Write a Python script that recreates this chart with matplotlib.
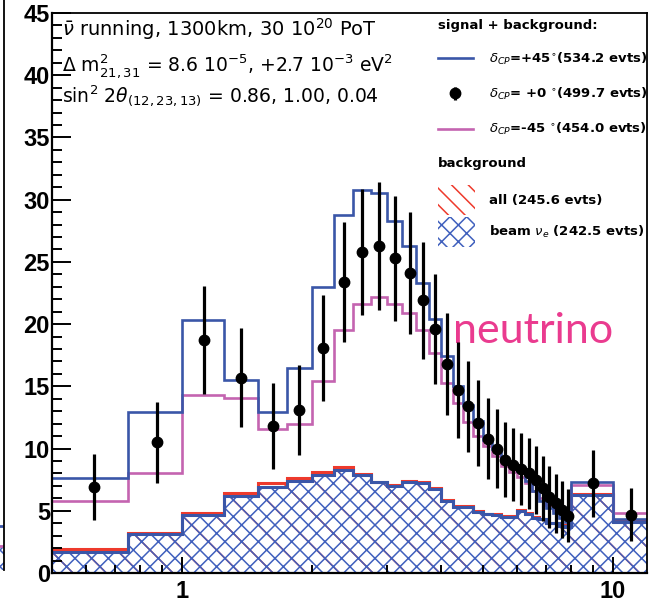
import numpy as np
import matplotlib.pyplot as plt
from matplotlib.lines import Line2D
from matplotlib.patches import Patch
from matplotlib.ticker import FixedLocator, MultipleLocator, LogLocator, NullFormatter

plt.rcParams['font.family'] = ['DejaVu Sans']
plt.rcParams['mathtext.fontset'] = 'dejavusans'
plt.rcParams['hatch.linewidth'] = 1.1

# energy bins (GeV)
edges = [0.5, 0.75, 1.0, 1.25, 1.5, 1.75, 2.0, 2.25, 2.5, 2.75, 3.0, 3.25, 3.5,
         3.75, 4.0, 4.25, 4.5, 4.75, 5.0, 5.25, 5.5, 5.75, 6.0, 6.25, 6.5, 6.75,
         7.0, 7.25, 7.5, 7.75, 8.0, 10.0, 12.0]

dcp_p45 = [7.65, 12.9, 20.3, 15.5, 12.9, 16.5, 23.0, 28.8, 30.8, 30.5, 28.3, 26.3,
           23.3, 20.4, 17.4, 15.0, 13.5, 12.2, 10.7, 10.0, 9.1, 8.6, 8.2, 7.4,
           6.6, 5.8, 5.2, 4.8, 4.4, 4.1, 7.3, 4.3]
dcp_0 = [6.9, 10.5, 18.7, 15.7, 11.8, 13.1, 18.1, 23.4, 25.8, 26.3, 25.3, 24.1,
         21.9, 19.6, 16.8, 14.7, 13.4, 12.05, 10.8, 10.0, 9.1, 8.7, 8.35, 8.0,
         7.5, 6.8, 6.1, 5.6, 5.1, 4.6, 7.2, 4.7]
dcp_m45 = [5.8, 8.0, 14.3, 14.1, 11.6, 12.0, 15.4, 19.5, 21.6, 22.2, 21.6, 20.9,
           19.5, 17.7, 15.3, 13.7, 12.1, 11.0, 10.2, 9.4, 8.6, 8.1, 7.7, 7.2,
           6.6, 6.0, 5.5, 5.1, 4.8, 4.6, 7.1, 4.8]
bg_all = [1.93, 3.2, 4.85, 6.45, 7.2, 7.62, 8.08, 8.55, 7.95, 7.35, 7.05, 7.4,
          7.35, 6.85, 5.9, 5.35, 5.4, 5.0, 4.75, 4.75, 4.6, 4.6, 5.1, 4.8,
          4.5, 4.35, 4.05, 4.05, 3.85, 3.75, 6.35, 4.15]
bg_beam_nue = [1.72, 3.14, 4.67, 6.17, 6.95, 7.43, 7.9, 8.3, 7.9, 7.3, 7.0, 7.35,
               7.25, 6.74, 5.8, 5.3, 5.3, 4.94, 4.72, 4.7, 4.5, 4.5, 5.0, 4.75,
               4.4, 4.3, 4.0, 4.0, 3.8, 3.7, 6.3, 4.13]

# neighbouring panel, only its right edge is in the picture
left_edges = [0.0, 1.0]
left_blue = [3.5]
left_pink = [1.9]
left_bg = [1.8]

labels_sig = [r'$\delta_{CP}$=+45$^{\circ}$(534.2 evts)',
              r'$\delta_{CP}$= +0 $^{\circ}$(499.7 evts)',
              r'$\delta_{CP}$=-45 $^{\circ}$(454.0 evts)']
labels_bg = ['all (245.6 evts)', r'beam $\nu_{e}$ (242.5 evts)']

blue = '#3a56a8'
pink = '#c464b0'
red = '#ee3a2c'
hblue = '#4060bd'

centers = [(a + b) / 2 for a, b in zip(edges[:-1], edges[1:])]
errs = np.sqrt(dcp_0)

fig = plt.figure(figsize=(6.56, 6.08), dpi=100)

ax0 = fig.add_axes([-0.5, 38 / 608, 0.5 + 4 / 656, 0.99])
ax0.stairs(left_bg, left_edges, fill=True, facecolor='none', edgecolor=hblue, hatch='xx', lw=0)
ax0.stairs(left_pink, left_edges, baseline=None, color=pink, lw=2)
ax0.stairs(left_blue, left_edges, baseline=None, color=blue, lw=2)
ax0.set_xlim(0, 1)
ax0.set_ylim(0, 48)
for s in ['left', 'top', 'bottom']:
    ax0.spines[s].set_visible(False)
ax0.spines['right'].set_linewidth(1.3)
ax0.set_xticks([])
ax0.set_yticks([])

ax = fig.add_axes([52 / 656, 35 / 608, 595 / 656, 560 / 608])

ax.stairs(bg_all, edges, fill=True, facecolor='none', edgecolor=red, hatch='\\', lw=0)
ax.stairs(bg_beam_nue, edges, fill=True, facecolor='none', edgecolor=hblue, hatch='xx', lw=0)
ax.stairs(bg_all, edges, baseline=None, color=red, lw=2.2)
ax.stairs(bg_beam_nue, edges, baseline=None, color=blue, lw=2.2)

ax.stairs(dcp_m45, edges, baseline=None, color=pink, lw=1.9)
ax.stairs(dcp_p45, edges, baseline=None, color=blue, lw=1.9)
eb = ax.errorbar(centers, dcp_0, yerr=errs, fmt='o', color='black', ms=7.5,
                 elinewidth=2.3, capsize=0, zorder=5)

ax.set_xscale('log')
ax.set_xlim(0.5, 12)
ax.set_ylim(0, 45)
ax.xaxis.set_major_locator(FixedLocator([1, 10]))
ax.set_xticklabels(['1', '10'])
ax.xaxis.set_minor_locator(LogLocator(base=10, subs=np.arange(2, 10)))
ax.xaxis.set_minor_formatter(NullFormatter())
ax.yaxis.set_major_locator(MultipleLocator(5))
ax.yaxis.set_minor_locator(MultipleLocator(1))
ax.tick_params(which='both', direction='in', width=1.4, top=False, right=False)
ax.tick_params(axis='y', which='major', length=13.5, pad=1.5)
ax.tick_params(axis='y', which='minor', length=7)
ax.tick_params(axis='x', which='major', length=11.5, pad=5)
ax.tick_params(axis='x', which='minor', length=6)
for lab in ax.get_xticklabels() + ax.get_yticklabels():
    lab.set_fontsize(17)
    lab.set_fontweight('bold')
    lab.set_family('Liberation Sans')
for s in ax.spines.values():
    s.set_linewidth(1.3)
ax.spines['left'].set_linewidth(1.6)
ax.spines['bottom'].set_linewidth(1.6)

ax.text(0.017, 0.959, r'$\bar{\nu}$ running, 1300km, 30 10$^{20}$ PoT',
        transform=ax.transAxes, fontsize=14, va='baseline')
ax.text(0.017, 0.895, r'$\Delta\ \mathrm{m}^{2}_{21,31}$ = 8.6 10$^{-5}$, +2.7 10$^{-3}$ eV$^{2}$',
        transform=ax.transAxes, fontsize=13.5, va='baseline')
ax.text(0.017, 0.842, r'sin$^{2}$ 2$\theta_{(12,23,13)}$ = 0.86, 1.00, 0.04',
        transform=ax.transAxes, fontsize=13.5, va='baseline')

ax.text(0.674, 0.411, 'neutrino', transform=ax.transAxes, color='#ea3b8f',
        fontsize=31, family='Lato', va='baseline')

h_p45 = Line2D([], [], color=blue, lw=1.9)
h_m45 = Line2D([], [], color=pink, lw=1.9)
leg1 = ax.legend([h_p45, eb, h_m45], labels_sig, title='signal + background:',
                 loc='upper left', bbox_to_anchor=(0.648, 0.99), frameon=False,
                 prop={'size': 9.5, 'weight': 'bold'}, title_fontproperties={'size': 9.5, 'weight': 'bold'},
                 alignment='left', borderpad=0, handlelength=2.65, handletextpad=1.25,
                 labelspacing=1.45, borderaxespad=0)
ax.add_artist(leg1)

ax.text(0.648, 0.732, 'background', transform=ax.transAxes, fontsize=9.5,
        fontweight='bold', va='center')
h_all = Patch(facecolor='none', edgecolor=red, hatch='\\\\', lw=0)
h_nue = Patch(facecolor='none', edgecolor=hblue, hatch='xx', lw=0)
leg2 = ax.legend([h_all, h_nue], labels_bg,
                 loc='upper left', bbox_to_anchor=(0.648, 0.693), frameon=False,
                 prop={'size': 9.5, 'weight': 'bold'},
                 borderpad=0, handlelength=2.85, handleheight=3.1,
                 handletextpad=1.05, labelspacing=0.2, borderaxespad=0)

fig.savefig('out.png', dpi=100)
